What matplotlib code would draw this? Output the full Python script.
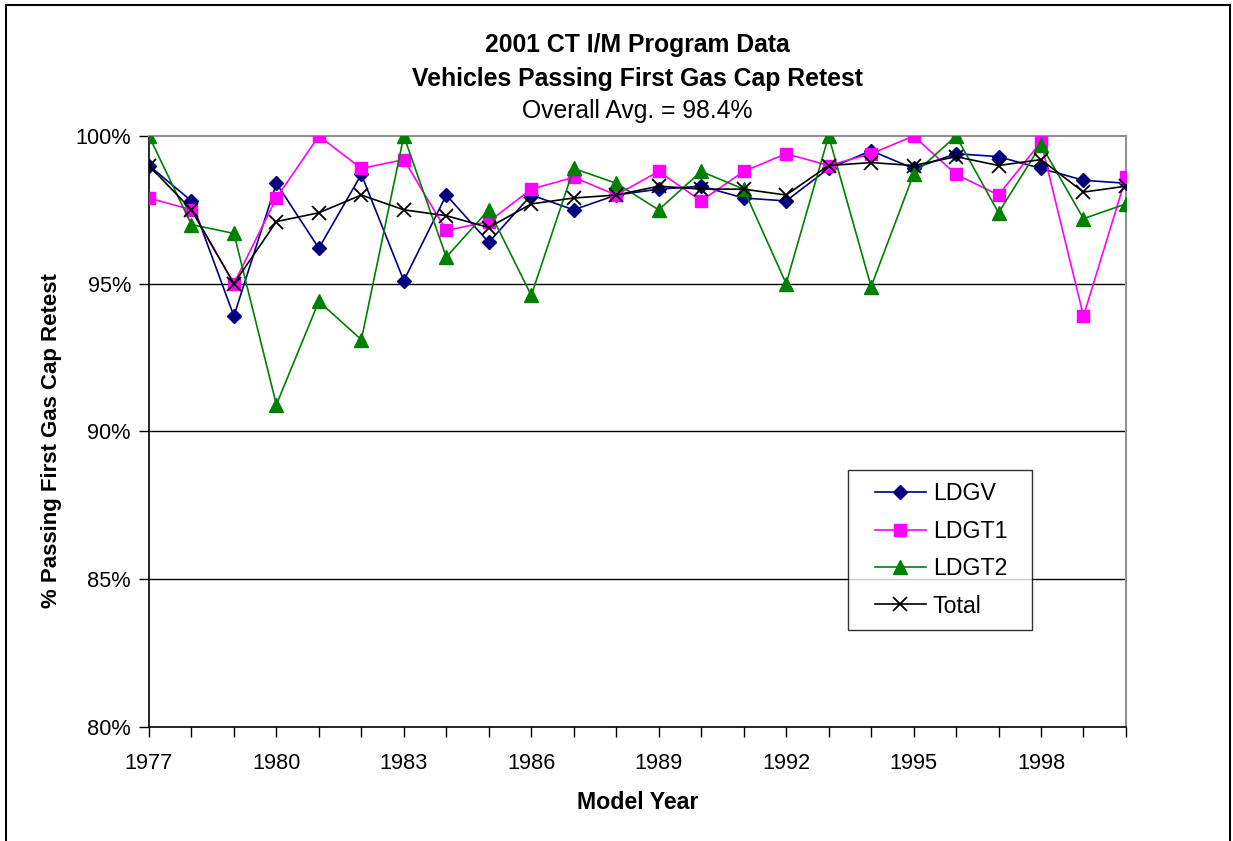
import numpy as np
import matplotlib
matplotlib.use("Agg")
import matplotlib.pyplot as plt
from matplotlib.patches import Rectangle
from matplotlib.lines import Line2D
from matplotlib.legend_handler import HandlerLine2D

plt.rcParams['font.family'] = ['Liberation Sans', 'DejaVu Sans']

# model years and pass rates (%)
years = list(range(1977, 2001))
ldgv = [99.0, 97.8, 93.9, 98.4, 96.2, 98.7, 95.1, 98.0, 96.4, 98.0, 97.5, 98.0,
        98.2, 98.3, 97.9, 97.8, 98.9, 99.5, 98.9, 99.4, 99.3, 98.9, 98.5, 98.4]
ldgt1 = [97.9, 97.5, 95.0, 97.9, 100.0, 98.9, 99.2, 96.8, 97.1, 98.2, 98.6, 98.0,
         98.8, 97.8, 98.8, 99.4, 99.0, 99.4, 100.0, 98.7, 98.0, 99.8, 93.9, 98.6]
ldgt2 = [100.0, 97.0, 96.7, 90.9, 94.4, 93.1, 100.0, 95.9, 97.5, 94.6, 98.9, 98.4,
         97.5, 98.8, 98.2, 95.0, 100.0, 94.9, 98.7, 100.0, 97.4, 99.7, 97.2, 97.7]
total = [99.0, 97.5, 95.0, 97.1, 97.4, 98.0, 97.5, 97.3, 96.9, 97.7, 97.9, 98.0,
         98.3, 98.2, 98.2, 98.0, 99.0, 99.1, 99.0, 99.3, 99.0, 99.2, 98.1, 98.3]
year_labels = [1977, 1980, 1983, 1986, 1989, 1992, 1995, 1998]
y_ticks = [80, 85, 90, 95, 100]

fig = plt.figure(figsize=(12.33, 8.41), dpi=100)
ax = fig.add_axes([0.1208, 0.1361, 0.7924, 0.7022])

# gridlines behind data
for v in [85, 90, 95]:
    ax.axhline(v, color='black', lw=1.0, zorder=1)

ax.plot(years, ldgv, color='#000080', marker='D', ms=7.5, lw=1.2, label='LDGV', zorder=3)
ax.plot(years, ldgt1, color='#FF00FF', marker='s', ms=9, lw=1.2, label='LDGT1', zorder=3)
ax.plot(years, ldgt2, color='#008000', marker='^', ms=10, lw=1.2, label='LDGT2', zorder=3)
ax.plot(years, total, color='black', marker='x', ms=10, mew=1.3, lw=1.2, label='Total', zorder=4)

ax.set_xlim(1977, 2000)
ax.set_ylim(80, 100)
ax.set_yticks(y_ticks)
ax.set_yticklabels([f"{v}%" for v in y_ticks])
ax.set_xticks(year_labels)
ax.set_xticklabels([str(y) for y in year_labels])
ax.set_xticks(years, minor=True)
ax.tick_params(axis='y', which='major', direction='out', length=7, width=1,
               labelsize=15.7, pad=6)
ax.tick_params(axis='x', which='major', direction='out', length=7, width=1,
               labelsize=15.7, pad=12)
ax.tick_params(axis='x', which='minor', direction='out', length=7, width=1)

for s in ['left', 'bottom']:
    ax.spines[s].set_color('black')
    ax.spines[s].set_linewidth(1.2)
for s in ['top', 'right']:
    ax.spines[s].set_color('#909090')
    ax.spines[s].set_linewidth(1.5)

ax.set_xlabel('Model Year', fontsize=16.7, fontweight='bold', labelpad=12)
ax.set_ylabel('% Passing First Gas Cap Retest', fontsize=16, fontweight='bold')
ax.yaxis.set_label_coords(-0.089, 0.4835)

leg = ax.legend(loc='lower left', bbox_to_anchor=(0.7155, 0.163, 0.1885, 0.2714),
                mode='expand', fontsize=16.7, frameon=True, fancybox=False,
                edgecolor='black', handlelength=2.8, borderpad=0.55,
                labelspacing=0.62, handletextpad=0.3, borderaxespad=0,
                handler_map={Line2D: HandlerLine2D(xpad=0.6)})
leg.get_frame().set_linewidth(1.0)

cx = 0.1208 + 0.7924 / 2
fig.text(cx, 1 - 45 / 841, '2001 CT I/M Program Data', ha='center', va='center',
         fontsize=17.8, fontweight='bold')
fig.text(cx, 1 - 79 / 841, 'Vehicles Passing First Gas Cap Retest', ha='center',
         va='center', fontsize=17.8, fontweight='bold')
fig.text(cx, 1 - 111 / 841, 'Overall Avg. = 98.4%', ha='center', va='center',
         fontsize=17.8)

# outer chart border
fig.patches.append(Rectangle((6 / 1233, -0.05), 1224 / 1233, 1.05 - 5 / 841,
                             transform=fig.transFigure, fill=False,
                             edgecolor='black', lw=1.5))

fig.savefig('out.png', dpi=100)
